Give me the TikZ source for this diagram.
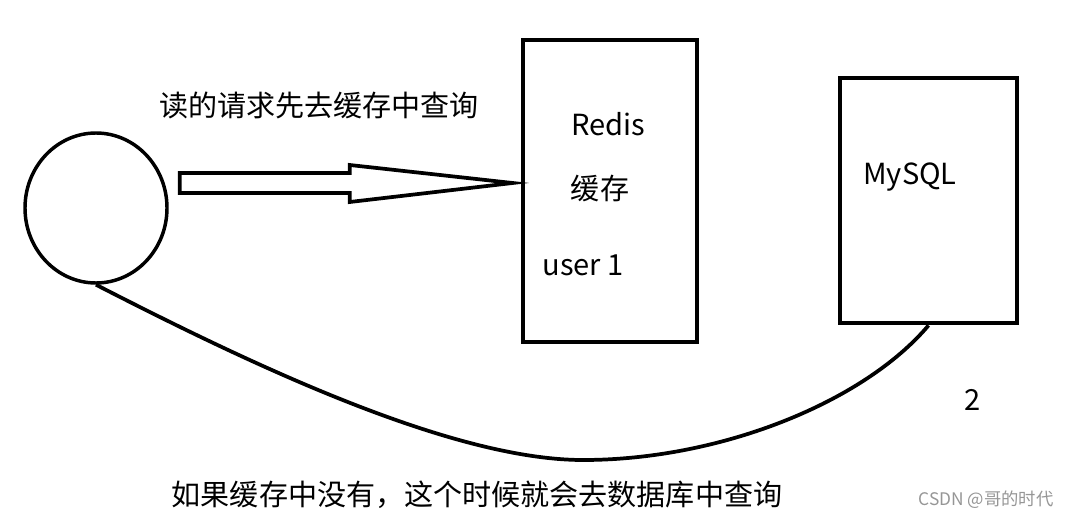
\documentclass[tikz,border=0pt]{standalone}
\usepackage{fontspec}
\setmainfont{Noto Sans CJK SC}
\usetikzlibrary{shapes.geometric,calc}
\definecolor{wmgray}{RGB}{150,150,150}
\begin{document}
\begin{tikzpicture}[x=0.75pt,y=-0.75pt,
  store/.style={draw,line width=3.6pt,inner sep=0pt},
  lbl/.style={font=\fontsize{21.8}{25}\selectfont,inner sep=0pt},
  line/.style={line width=2.8pt}]
\useasboundingbox (0,0) rectangle (1070,520);

% Client, cache and database
\node[draw,ellipse,line width=2.6pt,minimum width=106.5pt,minimum height=112.5pt] (client) at (96,208) {};
\node[store,minimum width=130.5pt,minimum height=226.5pt] (redis) at (610,191) {};
\node[store,minimum width=132.75pt,minimum height=183.75pt] (mysql) at (928.5,200.5) {};

% Labels
\node[lbl] (readtxt) at (319,105) {读的请求先去缓存中查询};
\node[lbl] (redistxt) at (608,124) {Redis};
\node[lbl] (cachetxt) at (600,188) {缓存};
\node[lbl] (usertxt) at (583,265) {user 1};
\node[lbl] (mysqltxt) at (910,177) {MySQL};
\node[lbl] (two) at (973,400) {2};
\node[lbl] (misstxt) at (477,495) {如果缓存中没有，这个时候就会去数据库中查询};
\node[font=\fontsize{13}{15}\selectfont,text=wmgray,inner sep=0pt] (wm) at (986,500) {CSDN @哥的时代};

% Block arrow to the cache
\coordinate (arrS) at ($(client.east)+(11,-25)$);
\coordinate (arrT) at ($(redis.west)+(-8,-8)$);
\draw[line,line join=miter] ($(arrS)+(0,-10)$) -- ($(arrS)+(170,-10)$) -- ($(arrS)+(170,-18)$)
  -- (arrT) -- ($(arrS)+(170,19)$) -- ($(arrS)+(170,10)$) -- ($(arrS)+(0,10)$) -- cycle;

% Fall back to the database
\coordinate (low) at (583,460);
\draw[line] (client.south) .. controls +(150,77) and +(-133,0) .. (low)
  .. controls +(137,0) and +(-65,77) .. (mysql.south);
\end{tikzpicture}
\end{document}
